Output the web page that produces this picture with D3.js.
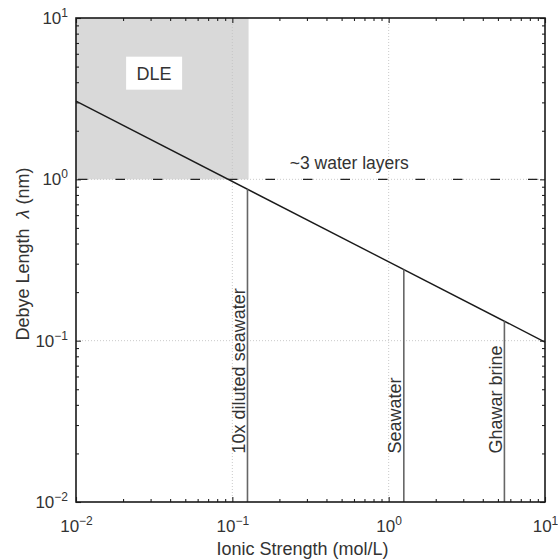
<!DOCTYPE html>
<html>
<head>
<meta charset="utf-8">
<script src="https://cdn.jsdelivr.net/npm/d3@7"></script>
<style>
  html, body { margin: 0; padding: 0; background: #fff; }
  svg { display: block; font-family: "Liberation Sans", Arial, Helvetica, sans-serif; }
  text { white-space: pre; }
</style>
</head>
<body>
<svg id="chart" width="558" height="560"></svg>
<script>
// ---- data ----
const ionicStrength = [0.01, 10];          // mol/L, ends of the Debye-length line
const debyeLength   = [3.05, 0.098];       // nm
const markerNames   = ["10x diluted seawater", "Seawater", "Ghawar brine"];
const markerIonic   = [0.125, 1.25, 5.5];  // mol/L
const dleIonic      = [0.01, 0.127];       // shaded DLE region (x extent)
const dleDebye      = [1, 10];             // shaded DLE region (y extent)
const waterLayerLevel = 1;                 // ~3 water layers, nm
const xDomain = [1e-2, 1e1];
const yDomain = [1e-2, 1e1];
const majorTicks = [1e-2, 1e-1, 1e0, 1e1];
const xTitle = "Ionic Strength (mol/L)";
const yTitleParts = ["Debye Length  ", "λ", " (nm)"];
const dleLabel = "DLE";
const layerLabel = "~3 water layers";

// ---- layout ----
const svg = d3.select("#chart");
const L = 76, R = 545, T = 18, B = 502;
const x = d3.scaleLog().domain(xDomain).range([L, R]);
const y = d3.scaleLog().domain(yDomain).range([B, T]);
const ink = "#333";

function minorTicks(domain) {
  const out = [];
  for (let e = Math.round(Math.log10(domain[0])); e < Math.round(Math.log10(domain[1])); e++)
    for (let k = 2; k <= 9; k++) out.push(k * Math.pow(10, e));
  return out;
}
function debyeAt(I) {
  const lx0 = Math.log10(ionicStrength[0]), lx1 = Math.log10(ionicStrength[1]);
  const ly0 = Math.log10(debyeLength[0]),  ly1 = Math.log10(debyeLength[1]);
  const t = (Math.log10(I) - lx0) / (lx1 - lx0);
  return Math.pow(10, ly0 + t * (ly1 - ly0));
}

// shaded DLE region
svg.append("rect")
  .attr("x", x(dleIonic[0])).attr("y", y(dleDebye[1]))
  .attr("width", x(dleIonic[1]) - x(dleIonic[0]))
  .attr("height", y(dleDebye[0]) - y(dleDebye[1]))
  .attr("fill", "#d9d9d9");

// dotted grid at decades
const grid = svg.append("g").attr("stroke", "#c4c4c4").attr("stroke-width", 0.9).attr("stroke-dasharray", "1,2");
majorTicks.slice(1, -1).forEach(v => {
  grid.append("line").attr("x1", x(v)).attr("x2", x(v)).attr("y1", T).attr("y2", B);
  grid.append("line").attr("x1", L).attr("x2", R).attr("y1", y(v)).attr("y2", y(v));
});

// DLE label box
const dleCx = x(0.0316), dleCy = y(4.55);
svg.append("rect").attr("x", dleCx - 28).attr("y", dleCy - 16.5).attr("width", 56).attr("height", 33).attr("fill", "#fff");
svg.append("text").attr("x", dleCx).attr("y", dleCy + 6.5).attr("text-anchor", "middle")
  .attr("font-size", 18).attr("fill", ink).text(dleLabel);

// dashed ~3 water layers line
svg.append("line")
  .attr("x1", L + 2).attr("x2", R).attr("y1", y(waterLayerLevel)).attr("y2", y(waterLayerLevel))
  .attr("stroke", "#222").attr("stroke-width", 1.2).attr("stroke-dasharray", "9.5,28");
svg.append("text").attr("x", x(0.56)).attr("y", y(waterLayerLevel) - 10).attr("text-anchor", "middle")
  .attr("font-size", 17.5).attr("fill", ink).text(layerLabel);

// Debye length line
const line = d3.line().x((d, i) => x(ionicStrength[i])).y(d => y(d));
svg.append("path").datum(debyeLength).attr("d", line)
  .attr("fill", "none").attr("stroke", "#1a1a1a").attr("stroke-width", 1.4);

// vertical markers
markerIonic.forEach((I, i) => {
  svg.append("line")
    .attr("x1", x(I)).attr("x2", x(I)).attr("y1", B).attr("y2", y(debyeAt(I)))
    .attr("stroke", "#666").attr("stroke-width", 1.6);
  svg.append("text")
    .attr("transform", `translate(${x(I) - 2.5},${y(0.02)}) rotate(-90)`)
    .attr("font-size", 18).attr("fill", ink).text(markerNames[i]);
});

// axes (inward ticks)
function expLabel(sel) {
  sel.selectAll(".tick text").each(function (d) {
    const t = d3.select(this);
    const e = Math.round(Math.log10(d));
    t.text(null).attr("fill", ink).attr("font-size", 17).attr("font-family", null);
    t.append("tspan").text("10");
    t.append("tspan").attr("dy", -7).attr("font-size", 12).text(e < 0 ? "\u2212" + (-e) : String(e));
  });
}
function styleAxis(g) {
  g.select(".domain").remove();
  g.selectAll(".tick line").attr("stroke", "#222").attr("stroke-width", 1.1);
}
const xAxisMajor = d3.axisBottom(x).tickValues(majorTicks).tickSize(-5).tickPadding(18);
const xAxisMinor = d3.axisBottom(x).tickValues(minorTicks(xDomain)).tickSize(-3).tickFormat("");
const yAxisMajor = d3.axisLeft(y).tickValues(majorTicks).tickSize(-5).tickPadding(8);
const yAxisMinor = d3.axisLeft(y).tickValues(minorTicks(yDomain)).tickSize(-3).tickFormat("");

svg.append("g").attr("transform", `translate(0,${B})`).call(xAxisMajor).call(styleAxis).call(expLabel);
svg.append("g").attr("transform", `translate(0,${B})`).call(xAxisMinor).call(styleAxis);
svg.append("g").attr("transform", `translate(${L},0)`).call(yAxisMajor).call(styleAxis).call(expLabel);
svg.append("g").attr("transform", `translate(${L},0)`).call(yAxisMinor).call(styleAxis);
svg.append("g").attr("transform", `translate(0,${T})`).call(d3.axisTop(x).tickValues(majorTicks).tickSize(-5).tickFormat("")).call(styleAxis);
svg.append("g").attr("transform", `translate(0,${T})`).call(d3.axisTop(x).tickValues(minorTicks(xDomain)).tickSize(-3).tickFormat("")).call(styleAxis);
svg.append("g").attr("transform", `translate(${R},0)`).call(d3.axisRight(y).tickValues(majorTicks).tickSize(-5).tickFormat("")).call(styleAxis);
svg.append("g").attr("transform", `translate(${R},0)`).call(d3.axisRight(y).tickValues(minorTicks(yDomain)).tickSize(-3).tickFormat("")).call(styleAxis);

// x-axis major tick labels: shift superscripted labels upward baseline
svg.selectAll("g .tick text").filter(function () { return this.getAttribute("dy") === "0.71em"; });

// plot border
svg.append("rect").attr("x", L).attr("y", T).attr("width", R - L).attr("height", B - T)
  .attr("fill", "none").attr("stroke", "#1a1a1a").attr("stroke-width", 1.6);

// axis titles
svg.append("text").attr("x", (L + R) / 2 - 8).attr("y", 555).attr("text-anchor", "middle")
  .attr("font-size", 18).attr("fill", ink).text(xTitle);
const yt = svg.append("text").attr("transform", `translate(29,254) rotate(-90)`)
  .attr("text-anchor", "middle").attr("font-size", 18).attr("fill", ink);
yt.append("tspan").text(yTitleParts[0]);
yt.append("tspan").attr("font-style", "italic").text(yTitleParts[1]);
yt.append("tspan").text(yTitleParts[2]);
</script>
</body>
</html>
